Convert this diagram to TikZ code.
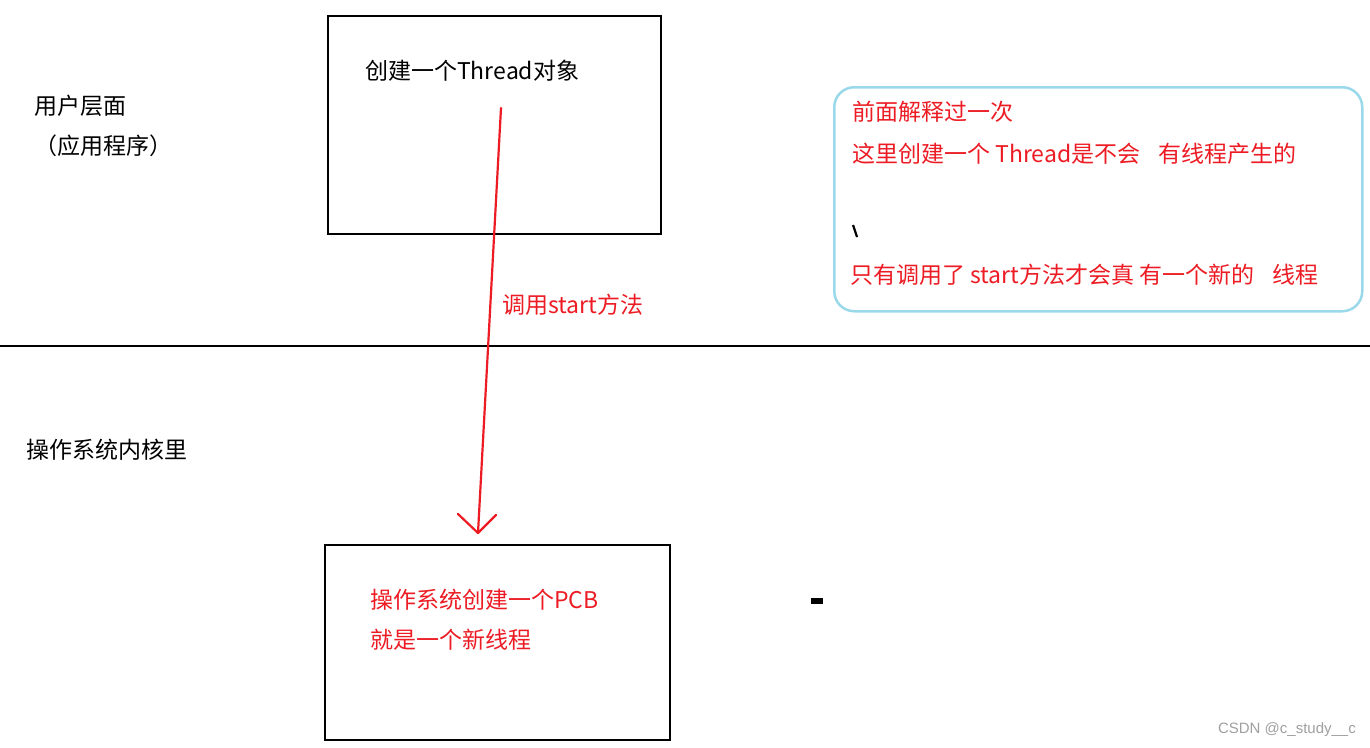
\documentclass[tikz,border=0pt]{standalone}
\usepackage{fontspec}
\setmainfont{Noto Sans CJK SC}
\newfontfamily\latinfont{Liberation Sans}
\definecolor{pred}{HTML}{ED1C24}
\definecolor{pblue}{HTML}{99D9EA}
\definecolor{wmgray}{HTML}{A0A0A0}
\begin{document}
\begin{tikzpicture}[x=1pt,y=-1pt,
  box/.style={draw=black,line width=2pt},
  txt/.style={anchor=west,inner sep=0pt,font=\fontsize{23}{27}\selectfont},
  rtxt/.style={txt,text=pred},
  redline/.style={draw=pred,line width=2.2pt,line cap=round,line join=round}]
\useasboundingbox (0,0) rectangle (1370,747);
\fill[white] (0,0) rectangle (1370,747);
% boxes
\node[box,minimum width=333pt,minimum height=218pt,anchor=north west,inner sep=0pt] (b1) at (327,15) {};
\node[box,minimum width=345pt,minimum height=195pt,anchor=north west,inner sep=0pt] (b2) at (324,544) {};
\node[draw=pblue,line width=2.5pt,rounded corners=20pt,minimum width=528pt,minimum height=224pt,anchor=north west,inner sep=0pt] (note) at (833,86) {};
% divider
\coordinate (dl) at (0,346);
\coordinate (dr) at (1370,346);
\draw[line width=2pt] (dl) -- (dr);
% left labels
\node[txt] (u1) at (34,106) {用户层面};
\node[txt] (u2) at (34,146) {（应用程序）};
\node[txt] (k1) at (26,450) {操作系统内核里};
% box texts
\node[txt] (t1) at (365,71) {创建一个Thread对象};
\node[rtxt] (t2) at (370,600) {操作系统创建一个PCB};
\node[rtxt] (t3) at (370,640) {就是一个新线程};
% note texts
\node[rtxt] (n1) at (852,112) {前面解释过一次};
\node[rtxt] (n2) at (852,154) {这里创建一个 Thread是不会\hspace{18pt}有线程产生的};
\node[rtxt] (n3) at (850,275) {只有调用了 start方法才会真 有一个新的\hspace{18pt}线程};
% arrow
\coordinate (as) at (501,108);
\coordinate (at) at (478,533);
\coordinate (al) at (458,514);
\coordinate (ar) at (496,515);
\draw[redline] (as) -- (at);
\draw[redline] (al) -- (at) -- (ar);
\node[rtxt] (lab) at (502,305) {调用start方法};
% stray marks
\coordinate (bs1) at (853,225);
\coordinate (bs2) at (857,237);
\draw[line width=2.2pt] (bs1) -- (bs2);
\fill (811,598) rectangle (823,604);
% watermark
\node[anchor=east,inner sep=0pt,text=wmgray,font=\latinfont\fontsize{15}{17}\selectfont] (wm) at (1356,730) {CSDN @c\_study\_\_c};
\end{tikzpicture}
\end{document}
